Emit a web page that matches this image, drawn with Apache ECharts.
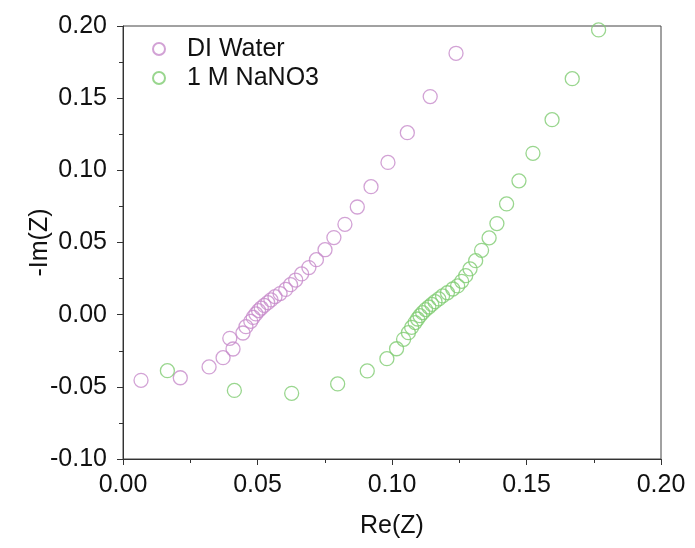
<!DOCTYPE html>
<html>
<head>
<meta charset="utf-8">
<script src="https://cdn.jsdelivr.net/npm/echarts@6/dist/echarts.min.js"></script>
<style>
  html, body { margin: 0; padding: 0; background: #fff; }
  #chart { width: 695px; height: 548px; }
</style>
</head>
<body>
<div id="chart"></div>
<script>
// series names
var seriesNames = ['DI Water', '1 M NaNO3']

// DI Water: [Re(Z), -Im(Z)]
var diWater = [
  [0.0067, -0.0455], [0.0213, -0.0437], [0.0320, -0.0362], [0.0372, -0.0298],
  [0.0409, -0.0238], [0.0397, -0.0164], [0.0446, -0.0127], [0.0457, -0.0083],
  [0.0475, -0.0046], [0.0484, -0.0019], [0.0494, 0.0005], [0.0504, 0.0028],
  [0.0514, 0.0046], [0.0525, 0.0064], [0.0538, 0.0083], [0.0550, 0.0102],
  [0.0565, 0.0125], [0.0584, 0.0146], [0.0605, 0.0175], [0.0623, 0.0208],
  [0.0642, 0.0240], [0.0664, 0.0282], [0.0691, 0.0326], [0.0719, 0.0381],
  [0.0751, 0.0450], [0.0784, 0.0534], [0.0825, 0.0626], [0.0871, 0.0746],
  [0.0922, 0.0887], [0.0985, 0.1055], [0.1057, 0.1261], [0.1142, 0.1511],
  [0.1238, 0.1811]
]

// 1 M NaNO3: [Re(Z), -Im(Z)]
var naNO3 = [
  [0.0165, -0.0388], [0.0414, -0.0525], [0.0627, -0.0545], [0.0798, -0.0480],
  [0.0908, -0.0390], [0.0981, -0.0305], [0.1017, -0.0236], [0.1043, -0.0171],
  [0.1061, -0.0125], [0.1073, -0.0088], [0.1086, -0.0055], [0.1095, -0.0030],
  [0.1104, -0.0007], [0.1114, 0.0014], [0.1125, 0.0035], [0.1137, 0.0053],
  [0.1148, 0.0071], [0.1160, 0.0090], [0.1174, 0.0109], [0.1188, 0.0130],
  [0.1206, 0.0152], [0.1226, 0.0178], [0.1244, 0.0199], [0.1259, 0.0231],
  [0.1274, 0.0270], [0.1290, 0.0317], [0.1311, 0.0374], [0.1333, 0.0446],
  [0.1361, 0.0532], [0.1390, 0.0631], [0.1426, 0.0767], [0.1472, 0.0927],
  [0.1524, 0.1118], [0.1595, 0.1351], [0.1670, 0.1635], [0.1768, 0.1973]
]

var font = 'Liberation Sans, Arial, sans-serif'
var colors = ['#c78bcb', '#80cc72']

var chart = echarts.init(document.getElementById('chart'))

// 共用坐标轴样式
var axisCommon = {
  axisLine: { show: true, onZero: false, lineStyle: { color: '#333', width: 1 } },
  axisTick: { show: true, inside: false, length: 6, lineStyle: { color: '#333' } },
  minorTick: { show: true, splitNumber: 2, length: 4, lineStyle: { color: '#333' } },
  splitLine: { show: false },
  axisLabel: {
    color: '#111',
    fontFamily: font,
    fontSize: 25,
    formatter: function (v) { return v.toFixed(2) }
  },
  nameLocation: 'middle',
  nameMoveOverlap: false,
  nameTextStyle: { color: '#111', fontFamily: font, fontSize: 25 }
}

// 空心圆点
function hollow (c) {
  return { color: 'rgba(255,255,255,0)', borderColor: c, borderWidth: 1.3 }
}

var option = {
  animation: false,
  backgroundColor: '#fff',
  grid: {
    left: 123,
    right: 34,
    top: 26,
    bottom: 89,
    show: true,
    borderColor: '#444',
    borderWidth: 1
  },
  legend: {
    orient: 'vertical',
    left: 147,
    top: 31,
    itemWidth: 12,
    itemHeight: 12,
    itemGap: 3,
    textStyle: { fontFamily: font, fontSize: 25, lineHeight: 26, color: '#111', padding: [0, 0, 0, 17] },
    data: seriesNames
  },
  xAxis: Object.assign({}, axisCommon, {
    type: 'value',
    min: 0,
    max: 0.2,
    interval: 0.05,
    name: 'Re(Z)',
    nameGap: 55,
    axisLabel: Object.assign({}, axisCommon.axisLabel, { margin: 14 })
  }),
  yAxis: Object.assign({}, axisCommon, {
    type: 'value',
    min: -0.1,
    max: 0.2,
    interval: 0.05,
    name: '-Im(Z)',
    nameGap: 70,
    axisLabel: Object.assign({}, axisCommon.axisLabel, { margin: 16 })
  }),
  series: [
    {
      name: seriesNames[0],
      type: 'scatter',
      symbol: 'circle',
      symbolSize: 14,
      itemStyle: hollow(colors[0]),
      data: diWater
    },
    {
      name: seriesNames[1],
      type: 'scatter',
      symbol: 'circle',
      symbolSize: 14,
      itemStyle: hollow(colors[1]),
      data: naNO3
    }
  ]
}

chart.setOption(option)
</script>
</body>
</html>
